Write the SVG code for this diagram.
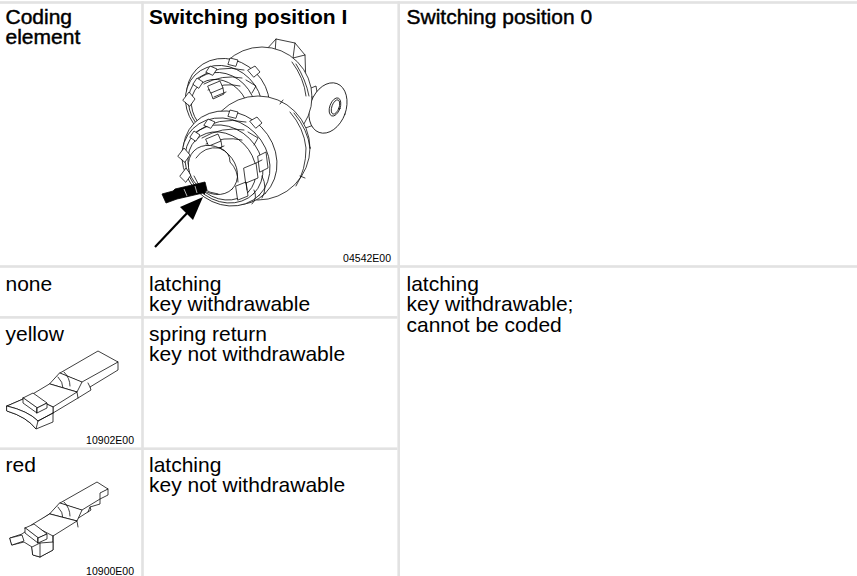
<svg xmlns="http://www.w3.org/2000/svg" width="857" height="576" viewBox="0 0 857 576">
<style>
  text { font-family: "Liberation Sans", Arial, Helvetica, sans-serif; fill: #000; }
  .cell { font-size: 21px; }
  .hb { font-size: 21px; font-weight: bold; }
  .hs { font-size: 21px; stroke: #000; stroke-width: 0.45; }
  .code { font-size: 10.5px; text-anchor: end; }
  .grid { fill: #e2e2e2; }
  .ln { fill: #fff; stroke: #000; stroke-width: 0.75; stroke-linejoin: round; stroke-linecap: round; }
  .lo { fill: none; stroke: #000; stroke-width: 0.75; stroke-linejoin: round; stroke-linecap: round; }
</style>
<rect x="0" y="0" width="857" height="576" fill="#fff"/>

<g id="grid">
  <rect class="grid" x="0" y="1.2" width="857" height="2.6"/>
  <rect class="grid" x="141.2" y="1.2" width="2.6" height="575"/>
  <rect class="grid" x="397.4" y="1.2" width="2.6" height="575"/>
  <rect class="grid" x="0" y="265.2" width="857" height="2.6"/>
  <rect class="grid" x="0" y="316.1" width="397.4" height="2.6"/>
  <rect class="grid" x="0" y="447.4" width="397.4" height="2.6"/>
</g>

<g id="header-coding">
  <text class="hs" x="5.5" y="23.5">Coding<tspan x="5.5" dy="20">element</tspan></text>
</g>
<g id="header-pos1">
  <text class="hb" x="149" y="24">Switching position I</text>
</g>
<g id="header-pos0">
  <text class="hs" x="406.5" y="24">Switching position 0</text>
</g>

<g id="switch-illustration">
  <!-- key -->
  <path class="ln" d="M296,94 L316,86 L322,122 L300,130 Z"/>
  <ellipse class="ln" cx="328" cy="108" rx="18" ry="26" transform="rotate(20 328 108)"/>
  <ellipse class="ln" cx="335" cy="107" rx="5.2" ry="9.5" transform="rotate(20 335 107)"/>
  <ellipse class="lo" cx="335.5" cy="107" rx="3.6" ry="7.5" transform="rotate(20 335.5 107)"/>
  <!-- hex nut -->
  <path class="ln" d="M266,50 L276,39 L295,43 L305,55 L306,86 L294,90 Z"/>
  <path class="lo" d="M295,43 L293,58 L305,55 M293,58 L291,88 M276,39 L275,53"/>
  <!-- rear drum -->
  <circle class="ln" cx="262" cy="97" r="50"/>
  <path class="lo" d="M292,62 Q304,78 306,96 M296,64 Q306,80 309,96"/>
  <!-- rear ring stack -->
  <ellipse class="ln" cx="228" cy="100" rx="44" ry="39" transform="rotate(45 228 100)"/>
  <ellipse class="ln" cx="224" cy="104" rx="41" ry="36" transform="rotate(45 224 104)"/>
  <ellipse class="lo" cx="222" cy="106" rx="36" ry="31" transform="rotate(45 222 106)"/>
  <ellipse class="lo" cx="220" cy="108" rx="31" ry="26" transform="rotate(45 220 108)"/>
  <path class="lo" d="M198,78 Q218,64 244,70 M204,84 Q222,74 242,78 M208,90 Q224,82 240,86"/>
  <path class="ln" d="M206,72 L210,66 L217,69 L213,75 Z M228,64 L230,58 L238,60 L236,66 Z M193,84 L197,78 L203,82 L199,88 Z M248,70 L255,66 L260,72 L254,77 Z"/>
  <path class="ln" d="M208,86 L220,81 L223,88 L211,93 Z M183,100 L189,92 L195,99 L190,106 Z"/>
  <path class="lo" d="M211,93 L213,99 L224,94 L223,88 M246,80 L256,86 L252,93 M214,97 L226,92"/>
  <!-- front drum -->
  <circle class="ln" cx="258" cy="148" r="52"/>
  <path class="lo" d="M290,112 Q304,128 306,148 Q306,170 296,186 M294,113 Q308,130 310,148"/>
  <path class="lo" d="M280,104 L283,100 M300,176 L305,178"/>
  <!-- front ring stack -->
  <ellipse class="ln" cx="230" cy="158" rx="50" ry="44" transform="rotate(45 230 158)"/>
  <ellipse class="ln" cx="226" cy="162" rx="47" ry="41" transform="rotate(45 226 162)"/>
  <ellipse class="lo" cx="224" cy="164" rx="42" ry="36" transform="rotate(45 224 164)"/>
  <ellipse class="lo" cx="222" cy="166" rx="37" ry="31" transform="rotate(45 222 166)"/>
  <path class="lo" d="M196,132 Q218,116 246,122 M202,138 Q222,126 244,130 M206,144 Q224,136 242,140"/>
  <path class="ln" d="M204,125 L208,119 L215,122 L211,128 Z M228,116 L230,110 L238,112 L236,118 Z M190,137 L194,131 L200,135 L196,141 Z M250,121 L257,117 L262,123 L256,128 Z"/>
  <path class="ln" d="M206,139 L218,134 L221,141 L209,146 Z M178,156 L184,148 L190,155 L185,162 Z M180,176 L186,168 L191,175 L186,182 Z"/>
  <path class="lo" d="M209,146 L211,152 L222,147 L221,141 M248,132 L258,138 L254,145 M212,151 L224,146"/>
  <path class="ln" d="M244,168 L256,163 L258,178 L246,183 Z M258,156 L266,152 L268,168 L260,172 Z M236,186 L246,182 L248,196 L238,200 Z"/>
  <path class="lo" d="M262,176 Q268,188 262,198 M254,190 Q258,198 252,204 M246,183 L247,190 M256,163 L262,160"/>
  <!-- opening -->
  <ellipse class="ln" cx="213" cy="170" rx="27" ry="22" transform="rotate(45 213 170)"/>
  <path class="lo" d="M196,158 Q204,146 220,148 Q230,152 230,162 Q238,170 238,182"/>
  <path class="lo" d="M194,176 Q200,192 218,194"/>
  <!-- coding element, black -->
  <path d="M162,194 L173,191 L175,189 L205,182 L207,190 L203,193 L177,199 L166,203 Z" fill="#000" stroke="#000" stroke-width="0.8" stroke-linejoin="round"/>
  <path d="M184,189 L187,196 M195,186 L197,193" fill="none" stroke="#fff" stroke-width="0.7"/>
  <path d="M202,190 L206,192 L204,195 Z" fill="#000"/>
</g>

<g id="connectors">
  <line x1="155" y1="247" x2="189" y2="211" stroke="#000" stroke-width="2.2"/>
  <path d="M203,197 L193,220 L180,207 Z" fill="#000"/>
</g>

<g id="code-04542">
  <text class="code" x="391" y="262">04542E00</text>
</g>

<g id="row-none">
  <text class="cell" x="5.5" y="290.5">none</text>
  <text class="cell" x="149" y="290.5">latching<tspan x="149" dy="20.7">key withdrawable</tspan></text>
</g>

<g id="pos0-text">
  <text class="cell" x="406.5" y="290.5">latching<tspan x="406.5" dy="20.7">key withdrawable;</tspan><tspan x="406.5" dy="20.7">cannot be coded</tspan></text>
</g>

<g id="row-yellow">
  <text class="cell" x="5.5" y="340.5">yellow</text>
  <text class="cell" x="149" y="340.5">spring return<tspan x="149" dy="20.7">key not withdrawable</tspan></text>
  <g id="yellow-element">
    <path class="ln" d="M118,362 L118,370 L90,387 L91,390 L78,398 L53,413 L53,422 L36,429 Q27,417 7,411 L7,406 L30,396 Z"/>
    <path class="ln" d="M60,373 L98,351 L118,362 L82,382 Z"/>
    <path class="ln" d="M60,373 L82,382 L77,392 L50,384 Z"/>
    <path class="lo" d="M64,372 Q70,378 70,386 M58,377 Q63,382 63,388"/>
    <path class="ln" d="M50,384 L77,392 L53,407 L30,396 Z"/>
    <path class="lo" d="M90,387 L88,383 M77,392 L78,398 M53,407 L53,413"/>
    <path class="ln" d="M7,406 L30,396 L53,407 L53,413 L38,421 Q28,411 7,406 Z"/>
    <path class="ln" d="M7,406 Q28,411 38,421 L36,429 Q27,417 7,411 Z"/>
    <path class="lo" d="M38,421 L53,413"/>
    <path class="ln" d="M23,398 L33,393 L47,403 L37,408 Z"/>
    <path class="ln" d="M37,408 L37,413 L23,403 L23,398 Z M37,408 L47,403 L47,408 L37,413 Z"/>
  </g>
  <text class="code" x="134" y="444.3">10902E00</text>
</g>

<g id="row-red">
  <text class="cell" x="5.5" y="471.5">red</text>
  <text class="cell" x="149" y="471.5">latching<tspan x="149" dy="20.7">key not withdrawable</tspan></text>
  <g id="red-element">
    <path class="ln" d="M108,489 L108,495 L100,499 L100,504 L90,507 L91,510 L80,517 L53,533 L53,550 L40,557 L33,555 L32,547 L24,542 L12,545 L10,538 L22,534 L48,515 Z"/>
    <path class="ln" d="M60,503 L97,482 L108,489 L100,493 L100,499 L82,510 Z"/>
    <path class="ln" d="M60,503 L82,510 L77,521 L50,514 Z"/>
    <path class="lo" d="M64,502 Q70,508 70,516 M58,507 Q63,512 63,518"/>
    <path class="ln" d="M50,514 L77,521 L53,536 L32,525 Z"/>
    <path class="lo" d="M90,507 L88,512 M77,521 L78,527 M53,536 L53,542"/>
    <path class="ln" d="M10,538 L22,535 L24,541 L12,545 Z"/>
    <path class="ln" d="M32,547 L40,543 L53,542 L53,550 L40,557 L33,555 Z"/>
    <path class="lo" d="M40,543 L40,557"/>
    <path class="ln" d="M25,528 L34,524 L47,534 L38,538 Z"/>
    <path class="ln" d="M38,538 L38,543 L25,533 L25,528 Z M38,538 L47,534 L47,539 L38,543 Z"/>
  </g>
  <text class="code" x="134" y="574.5">10900E00</text>
</g>
</svg>
